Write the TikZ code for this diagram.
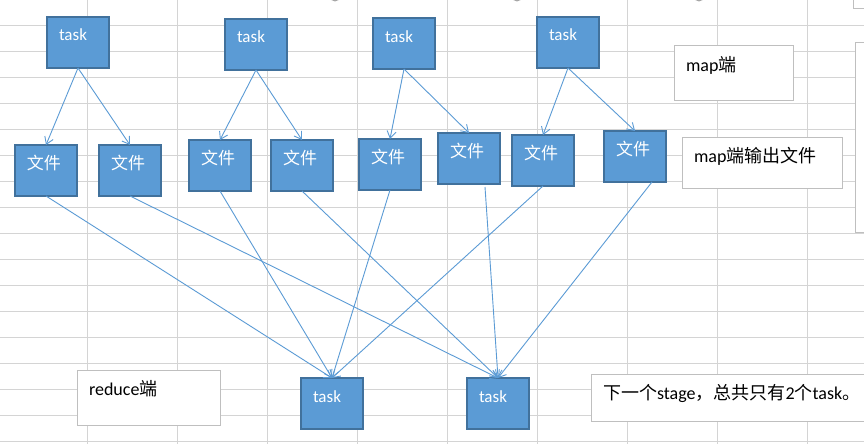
\documentclass[tikz,border=0pt]{standalone}
\usepackage{fontspec}
\setmainfont{Carlito}
\newfontfamily\cjk{Noto Sans CJK SC}
\usetikzlibrary{positioning,arrows.meta}
\definecolor{boxfill}{HTML}{5B9BD5}
\definecolor{boxline}{HTML}{41719C}
\definecolor{arrline}{HTML}{5B9BD5}
\definecolor{gridc}{HTML}{D4D4D4}
\definecolor{noteline}{HTML}{BFBFBF}

\begin{document}
\begin{tikzpicture}
                [x=1pt,y=-1pt,
                blk/.style={draw=boxline,fill=boxfill,line width=1.8pt,text=white,
                    anchor=north west,outer sep=0pt,inner xsep=12pt,inner ysep=0pt,
                    text width=38pt,text height=24pt,text depth=27pt,align=left,
                    font=\fontsize{17}{20}\selectfont},
                note/.style 2 args={draw=noteline,fill=white,line width=1pt,
                    anchor=north west,outer sep=0pt,inner xsep=12pt,inner ysep=0pt,
                    text width=#1,text height=25pt,text depth=#2,align=left,
                    font=\fontsize{18}{21}\selectfont},
                arr/.style={-{Straight Barb[length=7pt,width=9pt]},draw=arrline,line width=0.9pt}]
                \useasboundingbox (0,0) rectangle (864,444);
                \clip (0,0) rectangle (864,444);
                \fill[white] (0,0) rectangle (864,444);
                % sheet grid
                \foreach \gx in {0,...,8}
                    \draw[gridc,line width=1pt] (87.3+90*\gx,0) -- (87.3+90*\gx,444);
                \foreach \gy in {0,...,16}
                    \draw[gridc,line width=1pt] (0,25.3+26*\gy) -- (864,25.3+26*\gy);
                \draw[noteline,fill=white,line width=1pt] (855,43) rectangle (880,232);
                \draw[noteline,fill=white,line width=1pt] (853,-10) rectangle (880,9);
                \fill[gray!70] (335,-3.5) circle[radius=5pt];
                \fill[gray!70] (517,-3.5) circle[radius=5pt];
                \fill[gray!70] (699,-3.5) circle[radius=5pt];
                % map tasks
                \node[blk] (t1) at (47,17) {task};
                \node[blk] (t2) at (225,19) {task};
                \node[blk] (t3) at (373,18) {task};
                \node[blk] (t4) at (537,17) {task};
                % map output files
                \node[blk] (f1) at (15,145) {\cjk 文件};
                \node[blk,anchor=west] (f2)[right=22pt of f1]{\cjk 文件};
                \node[blk] (f3) at (189,140) {\cjk 文件};
                \node[blk,anchor=west] (f4)[right=20pt of f3]{\cjk 文件};
                \node[blk] (f5) at (359,139) {\cjk 文件};
                \node[blk] (f6) at (438,133) {\cjk 文件};
                \node[blk] (f7) at (512,135) {\cjk 文件};
                \node[blk] (f8) at (604,131) {\cjk 文件};
                % reduce tasks
                \node[blk] (b1) at (301,378) {task};
                \node[blk,anchor=west] (b2)[right=104pt of b1]{task};
                % notes
                \node[note={95pt}{29pt}] (mapend) at (674,46) {map{\cjk 端}};
                \node[note={136pt}{26pt}] (mapout) at (682,137) {map{\cjk 端输出文件}};
                \node[note={119pt}{30pt}] (redend) at (77,370) {reduce{\cjk 端}};
                \node[note={266pt}{22pt}] (nextstage) at (591,374)
                    {{\cjk 下一个}stage{\cjk ，总共只有}2{\cjk 个}task{\cjk 。}};
                \path(t1.south) edge[arr] (f1.north)
                                edge[arr] (f2.north)
                     (t2.south) edge[arr] (f3.north)
                                edge[arr] (f4.north)
                     (t3.south) edge[arr] (f5.north)
                                edge[arr] (f6.north)
                     (t4.south) edge[arr] (f7.north)
                                edge[arr] (f8.north);
                \path(f1.south) edge[arr] (b1.north)
                     (f3.south) edge[arr] (b1.north)
                     (f5.south) edge[arr] (b1.north)
                     (f7.south) edge[arr] (b1.north)
                     (f2.south) edge[arr] (b2.north)
                     (f4.south) edge[arr] (b2.north)
                     ([xshift=16pt,yshift=-3pt]f6.south) edge[arr] (b2.north)
                     ([xshift=17pt]f8.south) edge[arr] (b2.north);
            \end{tikzpicture}
\end{document}
